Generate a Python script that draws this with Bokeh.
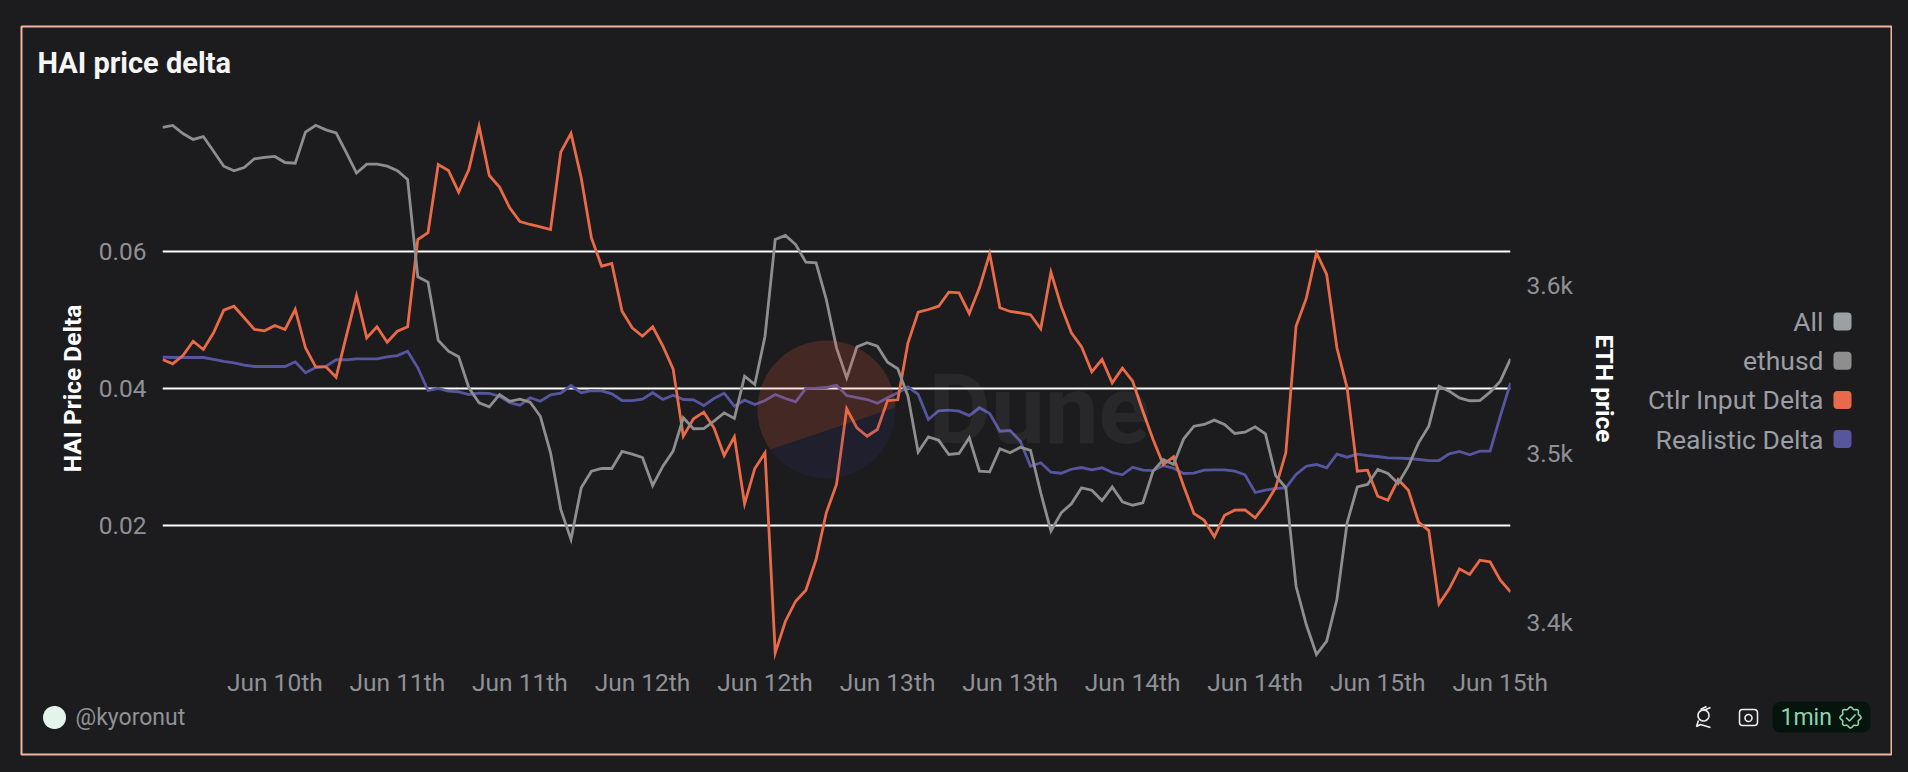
import numpy as np
import pandas as pd
from bokeh.embed import file_html
from bokeh.resources import INLINE
from bokeh.plotting import figure
from bokeh.models import (Range1d, LinearAxis, FixedTicker, Label, BoxAnnotation)

# ---------- data ----------
start_time = "2024-06-10 01:00"
series_names = ["All", "ethusd", "Ctlr Input Delta", "Realistic Delta"]
x_tick_times = ["2024-06-10 12:00", "2024-06-11 00:00", "2024-06-11 12:00", "2024-06-12 00:00",
                "2024-06-12 12:00", "2024-06-13 00:00", "2024-06-13 12:00", "2024-06-14 00:00",
                "2024-06-14 12:00", "2024-06-15 00:00", "2024-06-15 12:00"]
x_tick_labels = ["Jun 10th", "Jun 11th", "Jun 11th", "Jun 12th", "Jun 12th", "Jun 13th",
                 "Jun 13th", "Jun 14th", "Jun 14th", "Jun 15th", "Jun 15th"]
y_ticks = [0.02, 0.04, 0.06]
y_tick_labels = ["0.02", "0.04", "0.06"]
eth_ticks = [3400, 3500, 3600]
eth_tick_labels = ["3.4k", "3.5k", "3.6k"]

ethusd = [3693.9, 3695, 3690.2, 3686.7, 3688.4, 3679.7, 3670.8, 3668.1, 3670, 3675.2,
          3676.1, 3676.6, 3673, 3672.6, 3691, 3695.1, 3692.4, 3690.6, 3678.8, 3666.7,
          3672, 3672, 3670.8, 3668.1, 3662.9, 3605.2, 3602, 3567.5, 3561, 3557.7,
          3539.3, 3530.4, 3528, 3535.3, 3531.3, 3532.5, 3530.7, 3522.4, 3500.7, 3467.1,
          3449.3, 3479.9, 3489.8, 3491.4, 3491.4, 3501.5, 3499.9, 3497.9, 3481.3, 3492.8,
          3501.7, 3521.5, 3515, 3515.1, 3519.5, 3524.4, 3521.1, 3546.2, 3541.2, 3569.9,
          3627.3, 3629.7, 3624.3, 3613.8, 3613.5, 3591.7, 3563, 3545.2, 3563.6, 3566,
          3564, 3554.5, 3550.6, 3534.3, 3501.1, 3510.2, 3508.2, 3499.7, 3500.3, 3509.6,
          3489.8, 3489.4, 3503.1, 3500.7, 3504, 3502.1, 3477, 3454.2, 3465.1, 3470.4,
          3479.9, 3478.5, 3472.4, 3480.5, 3471.6, 3469.6, 3471, 3489.8, 3496.7, 3493.8,
          3509, 3516.5, 3517.5, 3520.1, 3517.5, 3512.2, 3512.9, 3516.1, 3512, 3487.2,
          3479.9, 3421.5, 3398.8, 3381, 3388.9, 3413.6, 3459.2, 3480.5, 3481.9, 3490.8,
          3488.4, 3482.5, 3492.8, 3506.6, 3516.5, 3540.2, 3537.3, 3533.3, 3531.6, 3531.7,
          3536.7, 3543.2, 3556.5]

ctlr_input_delta = [.04419, .04356, .04477, .04686, .04565, .04809, .05139, .05197, .05028, .04857,
                    .04838, .04915, .04857, .05149, .0459, .04312, .04312, .04161, .04759, .05353,
                    .04736, .04896, .04672, .04832, .04896, .06171, .06269, .07266, .07178, .06862,
                    .07193, .07825, .07105, .06935, .06634, .06434, .0639, .06356, .06317, .07446,
                    .07719, .07072, .06196, .05781, .05821, .05124, .04882, .04759, .04896, .04613,
                    .04283, .03299, .03553, .0365, .03422, .03017, .0329, .02312, .02828, .03057,
                    .00137, .00598, .0089, .01051, .01499, .02181, .02594, .03699, .03422, .03299,
                    .03397, .0382, .03831, .04663, .0511, .05149, .05197, .05402, .05393, .05091,
                    .05466, .05962, .05174, .0512, .05101, .05072, .04867, .05694, .05197, .04809,
                    .04604, .04239, .04419, .04079, .04292, .04102, .03664, .03251, .02886, .02998,
                    .02569, .02171, .02073, .0183, .02146, .02219, .02222, .02108, .02302, .02546,
                    .03057, .04905, .0531, .05977, .0566, .0459, .04006, .02788, .02803, .02423,
                    .02365, .02667, .02511, .02044, .01922, .00852, .01071, .01363, .0128, .01489,
                    .01465, .01197, .01027]

realistic_delta = [.04453, .04448, .04448, .04448, .04448, .04419, .0439, .04371, .04336, .04317,
                   .04317, .04317, .04317, .04385, .04225, .04302, .04317, .04415, .04415, .04429,
                   .04429, .04429, .04458, .04477, .0454, .04298, .03966, .03996, .03956, .03947,
                   .03908, .03927, .03923, .03883, .03787, .03752, .0386, .0381, .03904, .03927,
                   .04039, .03933, .03966, .03962, .03918, .0382, .0382, .03839, .03933, .03835,
                   .03898, .03835, .03831, .03747, .0385, .03927, .03737, .03825, .03762, .0382,
                   .03908, .0385, .03801, .03996, .04, .0401, .04044, .03893, .03864, .03835,
                   .03781, .0386, .03933, .0402, .03908, .03543, .0367, .03679, .03664, .03601,
                   .03714, .03631, .03372, .03382, .03226, .02861, .02911, .02774, .02759, .02817,
                   .02842, .02809, .02838, .02769, .02736, .02847, .02803, .02798, .02871, .02832,
                   .02755, .02759, .02803, .02809, .02809, .02788, .02736, .02477, .02511, .02536,
                   .02546, .0274, .02861, .02886, .02838, .03036, .02993, .03036, .03017, .03003,
                   .02984, .02978, .02974, .02959, .02944, .02944, .03042, .03076, .03028, .0308,
                   .0308, .03591, .04079]

# ---------- geometry (screen pixels of the reference) ----------
OFFX, OFFY = 2, 1
FL, FR, FT, FB = 164, 1512, 110, 668
W, H = 1892, 756
BG = "#1c1c1e"
TICK = "#8f9196"
FONT = "Roboto"

times = pd.date_range(start_time, periods=len(ethusd), freq="h")
x_ms = np.array([t.value // 10**6 for t in times], dtype=float)
x0, x1 = x_ms[0], x_ms[-1]
ytop = 0.04 + (388.7 - FT) / 6850
ybot = 0.04 - (FB - 388.7) / 6850
ethtop = 3600 + (286 - FT) * 0.5935
ethbot = 3600 - (FB - 286) * 0.5935

p = figure(width=W, height=H, output_backend="svg", toolbar_location=None,
           x_axis_type="datetime",
           x_range=Range1d(x0, x1), y_range=Range1d(ybot, ytop),
           background_fill_color=BG, border_fill_color=BG, outline_line_color=None,
           min_border_left=FL - OFFX, min_border_right=W - (FR - OFFX),
           min_border_top=FT - OFFY, min_border_bottom=H - (FB - OFFY))

p.extra_y_ranges = {"eth": Range1d(ethbot, ethtop)}

# axes
tick_ms = [float(pd.Timestamp(t).value // 10**6) for t in x_tick_times]
ax = p.xaxis[0]
ax.ticker = FixedTicker(ticks=tick_ms)
ax.major_label_overrides = dict(zip(tick_ms, x_tick_labels))
ax.axis_line_color = None
ax.major_tick_line_color = None
ax.minor_tick_line_color = None
ax.major_tick_out = 0
ax.major_tick_in = 0
ax.major_label_text_color = TICK
ax.major_label_text_font = FONT
ax.major_label_text_font_size = "24.5px"
ax.major_label_standoff = 0

ay = p.yaxis[0]
ay.ticker = FixedTicker(ticks=y_ticks)
ay.major_label_overrides = dict(zip(y_ticks, y_tick_labels))
ay.axis_line_color = None
ay.major_tick_line_color = None
ay.minor_tick_line_color = None
ay.major_tick_out = 0
ay.major_tick_in = 0
ay.major_label_text_color = TICK
ay.major_label_text_font = FONT
ay.major_label_text_font_size = "24.5px"
ay.major_label_standoff = 16
ay.axis_label = "HAI Price Delta"
ay.axis_label_text_color = "#ffffff"
ay.axis_label_text_font = FONT
ay.axis_label_text_font_style = "bold"
ay.axis_label_text_font_size = "24.5px"
ay.axis_label_standoff = 9

ar = LinearAxis(y_range_name="eth", ticker=FixedTicker(ticks=eth_ticks),
                major_label_overrides=dict(zip(eth_ticks, eth_tick_labels)),
                axis_line_color=None, major_tick_line_color=None, minor_tick_line_color=None,
                major_tick_out=0, major_tick_in=0,
                major_label_text_color=TICK, major_label_text_font=FONT,
                major_label_text_font_size="24.5px", major_label_standoff=16,
                axis_label="ETH price", axis_label_text_color="#ffffff",
                axis_label_text_font=FONT, axis_label_text_font_style="bold",
                axis_label_text_font_size="24.5px", axis_label_standoff=14)
p.add_layout(ar, "right")

p.xgrid.grid_line_color = None
p.ygrid.ticker = FixedTicker(ticks=y_ticks)
p.ygrid.grid_line_color = "#ffffff"
p.ygrid.grid_line_width = 2

# series
p.line(x_ms, realistic_delta, line_color="#5656a0", line_width=2.8, line_join="miter")
p.line(x_ms, ctlr_input_delta, line_color="#e96a47", line_width=2.8, line_join="miter")
p.line(x_ms, ethusd, y_range_name="eth", line_color="#8e8e8e", line_width=2.8, line_join="miter")

# ---------- transparent sheet over the chart: card, title, legend, icons, watermark ----------
d = figure(width=W, height=H, output_backend="svg", toolbar_location=None,
           x_range=Range1d(OFFX, W + OFFX), y_range=Range1d(H + OFFY, OFFY),
           x_axis_location=None, y_axis_location=None,
           background_fill_color=None, border_fill_color=None, outline_line_color=None,
           min_border=0, min_border_left=0, min_border_right=0, min_border_top=0, min_border_bottom=0)
d.xgrid.visible = False
d.ygrid.visible = False
d.styles = {"margin-top": f"-{H}px", "pointer-events": "none"}

# Dune watermark, over the lines
cx, cy, r = 828, 410, 69
ax1, ay1, ax2, ay2 = 772, 450, 896, 408   # chord that separates the two colours
a1 = np.arctan2(ay1 - cy, ax1 - cx)
a2 = np.arctan2(ay2 - cy, ax2 - cx)
t_up = np.linspace(a1, a2 + 2 * np.pi if a2 < a1 else a2, 80)
t_dn = np.linspace(a2, a1, 80)
d.patch(cx + r * np.cos(t_up), cy + r * np.sin(t_up), fill_color="#f4603e", fill_alpha=0.19, line_color=None)
d.patch(cx + r * np.cos(t_dn), cy + r * np.sin(t_dn), fill_color="#3a3490", fill_alpha=0.13, line_color=None)


def text(sx, sy, s, size, color, align="left", style="normal", alpha=1.0):
    d.add_layout(Label(x=sx, y=sy, text=s, text_color=color, text_alpha=alpha,
                       text_font=FONT, text_font_size=size, text_font_style=style,
                       text_align=align, text_baseline="middle"))


def box(l, t, r_, b, **kw):
    d.add_layout(BoxAnnotation(left=l, right=r_, top=t, bottom=b, level="underlay",
                               line_alpha=1, **kw))


def ring(cx_, cy_, r_, **kw):
    t = np.linspace(0, 2 * np.pi, 40)
    d.patch(cx_ + r_ * np.cos(t), cy_ + r_ * np.sin(t), **kw)


text(930, 410, "Dune", "96px", "#ffffff", style="bold", alpha=0.055)

# card border
box(23, 27, 1893, 755, fill_color=None, line_color="#f2b5a0", line_width=2)

# title
text(39, 63.5, "HAI price delta", "29px", "#f5f5f5", style="bold")

# legend
swatches = ["#9aa0a6", "#8e8e8e", "#e86a4a", "#56569c"]
for i, (name, col) in enumerate(zip(series_names, swatches)):
    ymid = 322 + 39.2 * i
    text(1825, ymid, name, "26.5px", "#9a9da3", align="right")
    box(1835, ymid - 9, 1853, ymid + 9, fill_color=col, fill_alpha=1, line_color=None, border_radius=4)

# author
ring(56, 718, 11.5, fill_color="#e3f5ea", line_color=None)
text(77, 718, "@kyoronut", "23px", "#8f9196")

# plug icon
ICON = "#f0f0f0"
ring(1705, 716, 5.5, fill_color=None, line_color=ICON, line_width=1.6)
d.line([1705, 1712], [711, 708], line_color=ICON, line_width=1.6)
d.line([1702, 1708], [710, 707], line_color=ICON, line_width=1.6)
d.line([1700, 1698, 1702, 1712], [721, 727, 725, 728], line_color=ICON, line_width=1.6)
# camera icon
box(1741, 710, 1759, 726, fill_color=None, line_color=ICON, line_width=1.5, border_radius=3)
ring(1750, 718.5, 3.5, fill_color=None, line_color=ICON, line_width=1.5)
# freshness badge
box(1774, 702, 1872, 733, fill_color="#06140e", fill_alpha=1, line_color=None, border_radius=8)
text(1782, 718, "1min", "23px", "#8fd3ad")
seal_t = np.linspace(0, 2 * np.pi, 97)
seal_r = 9.5 + 1.0 * np.cos(8 * seal_t)
d.patch(1852 + seal_r * np.cos(seal_t), 718 + seal_r * np.sin(seal_t), fill_color=None,
        line_color="#8fd3ad", line_width=1.6)
d.line([1847.5, 1851, 1857], [718, 721.5, 715], line_color="#8fd3ad", line_width=1.6)

html = file_html([p, d], INLINE)
html = html.replace("<head>", f"<head><style>html,body{{background:{BG};}}</style>", 1)
open("out.html", "w").write(html)
